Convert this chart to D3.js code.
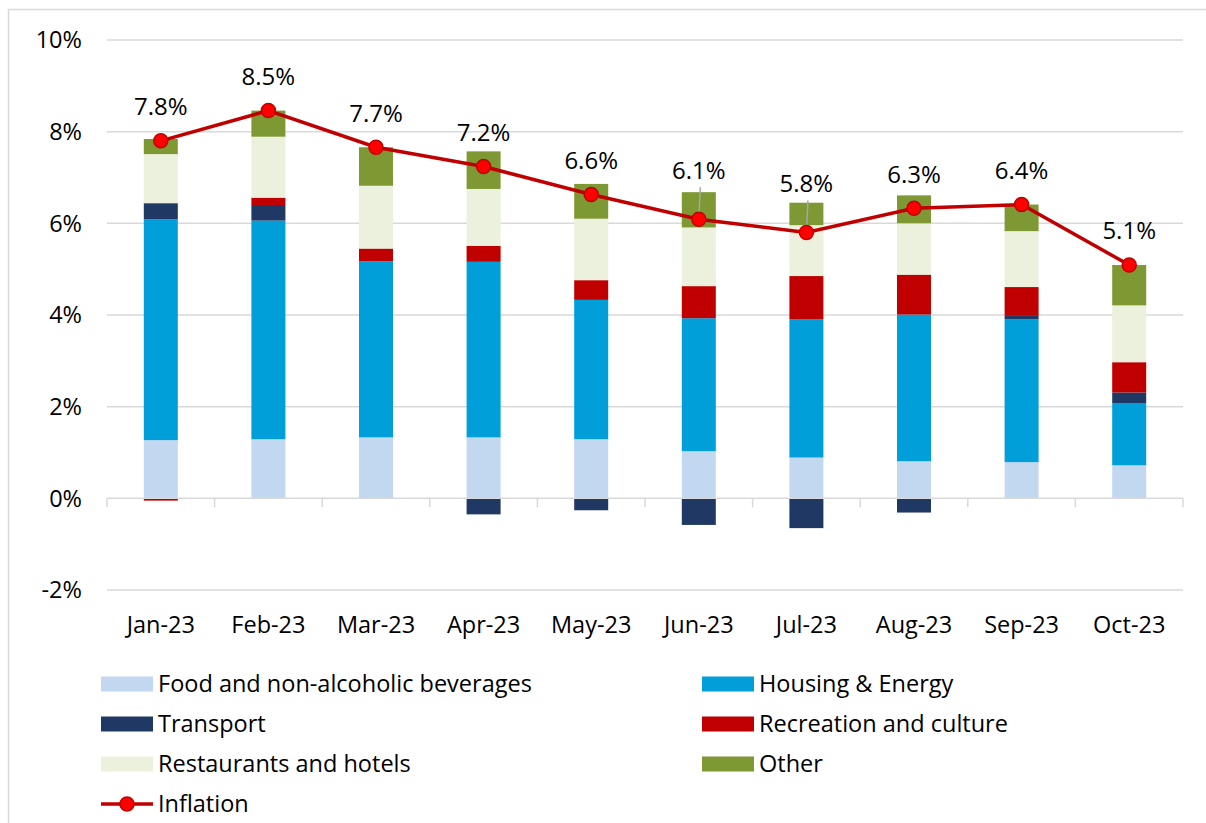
<!DOCTYPE html>
<html>
<head>
<meta charset="utf-8">
<script src="https://cdn.jsdelivr.net/npm/d3@7"></script>
<style>
  html, body { margin: 0; padding: 0; background: #fff; }
  svg { display: block; }
  text { font-family: "Open Sans", sans-serif; fill: #000; }
</style>
</head>
<body>
<div id="container"></div>
<script>
const months = ['Jan-23', 'Feb-23', 'Mar-23', 'Apr-23', 'May-23', 'Jun-23', 'Jul-23', 'Aug-23', 'Sep-23', 'Oct-23'];
const food = [1.27, 1.29, 1.33, 1.33, 1.29, 1.03, 0.89, 0.81, 0.79, 0.72];
const housing = [4.82, 4.77, 3.84, 3.83, 3.04, 2.90, 3.02, 3.20, 3.12, 1.36];
const transport = [0.35, 0.34, 0.00, -0.35, -0.26, -0.58, -0.65, -0.31, 0.07, 0.23];
const recreation = [-0.05, 0.16, 0.28, 0.35, 0.43, 0.70, 0.94, 0.87, 0.63, 0.66];
const restaurants = [1.07, 1.33, 1.37, 1.24, 1.34, 1.28, 1.11, 1.12, 1.22, 1.24];
const other = [0.33, 0.57, 0.84, 0.82, 0.76, 0.77, 0.49, 0.61, 0.58, 0.88];
const inflation = [7.80, 8.46, 7.66, 7.24, 6.63, 6.09, 5.80, 6.33, 6.41, 5.09];
const yTicks = [-2, 0, 2, 4, 6, 8, 10];

const seriesNames = ['Food and non-alcoholic beverages', 'Housing & Energy', 'Transport', 'Recreation and culture', 'Restaurants and hotels', 'Other'];
const seriesValues = [food, housing, transport, recreation, restaurants, other];
const seriesColors = ['#C2D7F0', '#009FD9', '#203864', '#C00000', '#EBF1DC', '#7E9834'];
const leaderMonths = ['Jun-23', 'Jul-23'];

const W = 1206, H = 823;
const fontSize = 23.5;
const svg = d3.select('#container')
    .append('svg')
    .attr('width', W)
    .attr('height', H);

// outer chart border (right/bottom edges fall outside the picture)
svg.append('rect')
    .attr('x', 8.5).attr('y', 9.5)
    .attr('width', W + 20).attr('height', H + 20)
    .attr('fill', 'none')
    .attr('stroke', '#D9D9D9')
    .attr('stroke-width', 1.5);

const x = d3.scaleBand().domain(months).range([107, 1183]).paddingInner(0).paddingOuter(0);
const y = d3.scaleLinear().domain([-2, 10]).range([590, 40]);
const barW = 34;

// gridlines
svg.append('g')
    .selectAll('line')
    .data(yTicks.filter(t => t !== 0))
    .enter()
    .append('line')
    .attr('x1', 107).attr('x2', 1183)
    .attr('y1', d => y(d)).attr('y2', d => y(d))
    .attr('stroke', '#D9D9D9')
    .attr('stroke-width', 1.5);

// y labels
svg.append('g')
    .selectAll('text')
    .data(yTicks)
    .enter()
    .append('text')
    .attr('x', 82)
    .attr('y', d => y(d))
    .attr('dy', '0.35em')
    .attr('text-anchor', 'end')
    .attr('font-size', fontSize)
    .text(d => d + '%');

// stacked bars
const table = months.map((m, i) => {
    const row = { month: m };
    seriesNames.forEach((s, k) => row[s] = seriesValues[k][i]);
    return row;
});
const stack = d3.stack().keys(seriesNames).offset(d3.stackOffsetDiverging);
const layers = stack(table);

svg.append('g')
    .selectAll('g')
    .data(layers)
    .enter()
    .append('g')
    .attr('fill', (_, i) => seriesColors[i])
    .selectAll('rect')
    .data(d => d)
    .enter()
    .append('rect')
    .attr('x', d => x(d.data.month) + x.bandwidth() / 2 - barW / 2)
    .attr('width', barW)
    .attr('y', d => y(Math.max(d[0], d[1])))
    .attr('height', d => Math.abs(y(d[0]) - y(d[1])));

// x axis line + ticks
const axis = svg.append('g').attr('transform', `translate(0,${y(0)})`);
axis.append('line')
    .attr('x1', 107).attr('x2', 1183)
    .attr('stroke', '#D9D9D9').attr('stroke-width', 1.5);
axis.selectAll('line.tick')
    .data(months.concat(['end']))
    .enter()
    .append('line')
    .attr('class', 'tick')
    .attr('x1', (d, i) => 107 + i * x.bandwidth())
    .attr('x2', (d, i) => 107 + i * x.bandwidth())
    .attr('y1', 0).attr('y2', 9)
    .attr('stroke', '#D9D9D9').attr('stroke-width', 1.5);

svg.append('g')
    .selectAll('text')
    .data(months)
    .enter()
    .append('text')
    .attr('x', d => x(d) + x.bandwidth() / 2)
    .attr('y', 625)
    .attr('dy', '0.35em')
    .attr('text-anchor', 'middle')
    .attr('font-size', fontSize)
    .text(d => d);

// inflation line
const cx = i => x(months[i]) + x.bandwidth() / 2;
const line = d3.line().x((d, i) => cx(i)).y(d => y(d));
svg.append('path')
    .datum(inflation)
    .attr('d', line)
    .attr('fill', 'none')
    .attr('stroke', '#C00000')
    .attr('stroke-width', 3.5);

// leader lines for lifted labels
svg.append('g')
    .selectAll('line')
    .data(inflation.map((v, i) => ({ v, i })).filter(d => leaderMonths.includes(months[d.i])))
    .enter()
    .append('line')
    .attr('x1', d => cx(d.i) + 1.5).attr('x2', d => cx(d.i))
    .attr('y1', d => y(d.v) - 32).attr('y2', d => y(d.v))
    .attr('stroke', '#A6A6A6').attr('stroke-width', 1.5);

svg.append('g')
    .selectAll('circle')
    .data(inflation)
    .enter()
    .append('circle')
    .attr('cx', (d, i) => cx(i))
    .attr('cy', d => y(d))
    .attr('r', 7)
    .attr('fill', '#FF0000')
    .attr('stroke', '#C00000')
    .attr('stroke-width', 1.5);

svg.append('g')
    .selectAll('text')
    .data(inflation)
    .enter()
    .append('text')
    .attr('x', (d, i) => cx(i))
    .attr('y', (d, i) => y(d) - (leaderMonths.includes(months[i]) ? 49 : 34))
    .attr('dy', '0.35em')
    .attr('text-anchor', 'middle')
    .attr('font-size', fontSize + 0.5)
    .text(d => d.toFixed(1) + '%');

// legend
const legendItems = seriesNames.map((s, i) => ({ name: s, color: seriesColors[i], type: 'bar' }))
    .concat([{ name: 'Inflation', color: '#C00000', type: 'line' }]);
const legend = svg.append('g')
    .selectAll('g')
    .data(legendItems)
    .enter()
    .append('g')
    .attr('transform', (d, i) => `translate(${i % 2 === 0 || d.type === 'line' ? 101 : 702},${684 + Math.floor(i / 2) * 40})`);
legend.filter(d => d.type === 'bar')
    .append('rect')
    .attr('x', 0).attr('y', -7.5)
    .attr('width', 52).attr('height', 15)
    .attr('fill', d => d.color);
const lineItem = legend.filter(d => d.type === 'line');
lineItem.append('line')
    .attr('x1', 0).attr('x2', 52)
    .attr('stroke', '#C00000').attr('stroke-width', 3.5);
lineItem.append('circle')
    .attr('cx', 26).attr('r', 7)
    .attr('fill', '#FF0000').attr('stroke', '#C00000').attr('stroke-width', 1.5);
legend.append('text')
    .attr('x', 57)
    .attr('dy', '0.35em')
    .attr('font-size', fontSize)
    .text(d => d.name);
</script>
</body>
</html>
